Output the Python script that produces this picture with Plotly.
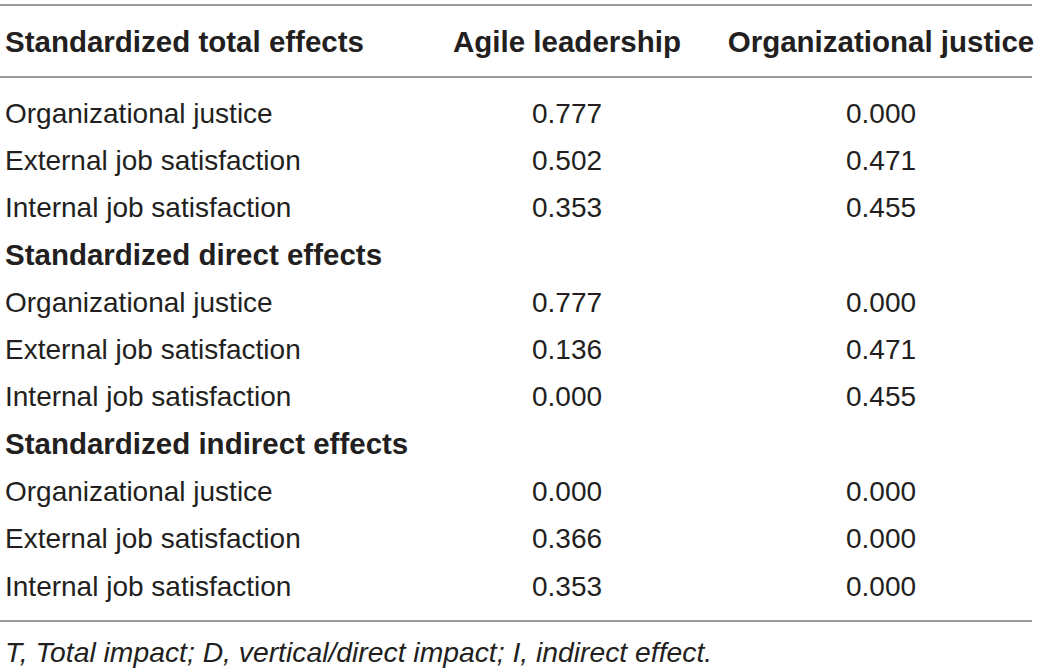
import plotly.graph_objects as go

# ---- data ----
header = ["Standardized total effects", "Agile leadership", "Organizational justice"]
sections = ["Standardized total effects", "Standardized direct effects", "Standardized indirect effects"]
outcomes = ["Organizational justice", "External job satisfaction", "Internal job satisfaction"]
agile_leadership = [0.777, 0.502, 0.353, 0.777, 0.136, 0.000, 0.000, 0.366, 0.353]
organizational_justice = [0.000, 0.471, 0.455, 0.000, 0.471, 0.455, 0.000, 0.000, 0.000]
footnote = "T, Total impact; D, vertical/direct impact; I, indirect effect."

# ---- layout constants (pixel-like axis units) ----
W, H = 1039, 670
X_LEFT = 5
X_C2 = 567
X_C3 = 881
Y_HEADER = 44.5
Y_ROW0 = 115.5
ROW_STEP = 47.3
Y_FOOT = 655
LINE_Y = [5, 77, 621]
LINE_X = (0, 1032)

TEXT = "#231f20"
LINE = "#9b9b9b"
FONT = "Liberation Sans"
REG = 28
BOLD = 29.5
FOOT = 28.3

# build body rows: section headings (except first, in header) and data rows
body_labels, body_bold, body_c2, body_c3 = [], [], [], []
k = 0
for s_i, sec in enumerate(sections):
    if s_i > 0:
        body_labels.append(sec); body_bold.append(True)
        body_c2.append(""); body_c3.append("")
    for o in outcomes:
        body_labels.append(o); body_bold.append(False)
        body_c2.append(f"{agile_leadership[k]:.3f}")
        body_c3.append(f"{organizational_justice[k]:.3f}")
        k += 1

ys = [Y_ROW0 + i * ROW_STEP for i in range(len(body_labels))]

fig = go.Figure()

def add_text(xs, yv, texts, pos, size, weight="normal", style="normal"):
    fig.add_trace(go.Scatter(
        x=xs, y=yv, text=texts, mode="text", textposition=pos,
        textfont=dict(family=FONT, size=size, color=TEXT, weight=weight, style=style),
        hoverinfo="skip", showlegend=False, cliponaxis=False))

# header
add_text([X_LEFT], [Y_HEADER], [header[0]], "middle right", BOLD, "bold")
add_text([X_C2, X_C3], [Y_HEADER, Y_HEADER], header[1:], "middle center", BOLD, "bold")

# body labels
reg_idx = [i for i, b in enumerate(body_bold) if not b]
bold_idx = [i for i, b in enumerate(body_bold) if b]
add_text([X_LEFT] * len(reg_idx), [ys[i] for i in reg_idx], [body_labels[i] for i in reg_idx], "middle right", REG)
add_text([X_LEFT] * len(bold_idx), [ys[i] for i in bold_idx], [body_labels[i] for i in bold_idx], "middle right", BOLD, "bold")
add_text([X_C2] * len(reg_idx), [ys[i] for i in reg_idx], [body_c2[i] for i in reg_idx], "middle center", REG)
add_text([X_C3] * len(reg_idx), [ys[i] for i in reg_idx], [body_c3[i] for i in reg_idx], "middle center", REG)

# footnote
add_text([X_LEFT], [Y_FOOT], [footnote], "middle right", FOOT, style="italic")

for ly in LINE_Y:
    fig.add_shape(type="line", x0=LINE_X[0], x1=LINE_X[1], y0=ly, y1=ly,
                  line=dict(color=LINE, width=2))

fig.update_layout(
    width=W, height=H, margin=dict(l=0, r=0, t=0, b=0),
    paper_bgcolor="white", plot_bgcolor="white",
    xaxis=dict(range=[0, W], visible=False, fixedrange=True),
    yaxis=dict(range=[H, 0], visible=False, fixedrange=True),
)

fig.write_html("out.html", config={"displayModeBar": False},
               post_script="document.body.style.margin='0';document.body.style.overflow='hidden';")
